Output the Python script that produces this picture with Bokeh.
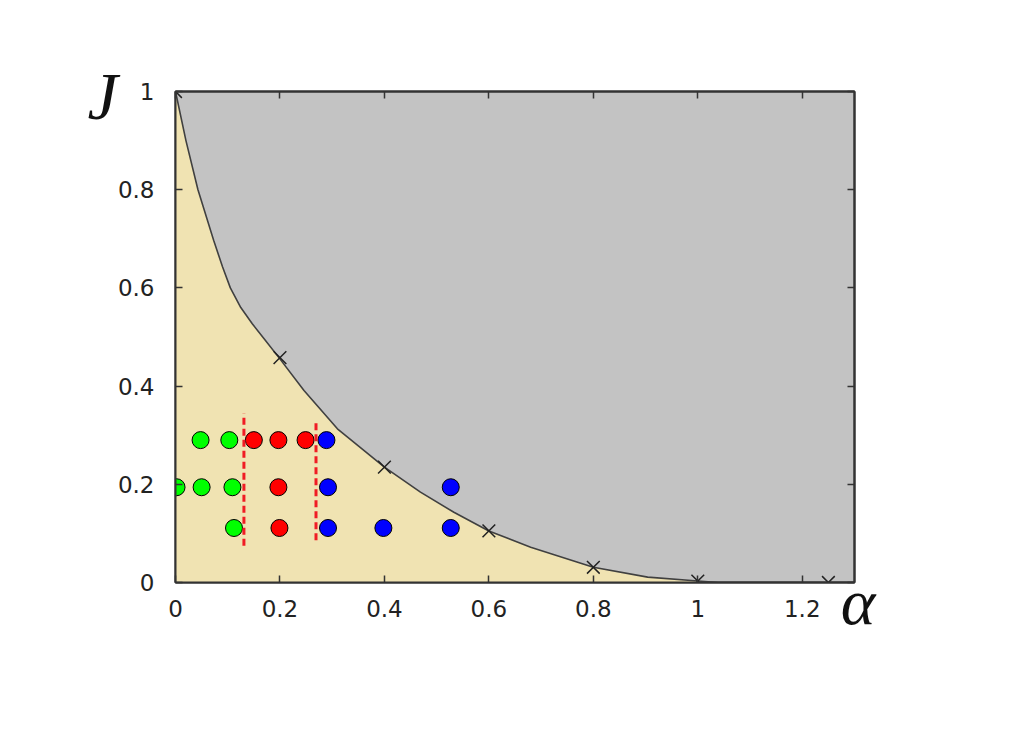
from bokeh.plotting import figure
from bokeh.models import LinearAxis, FixedTicker, Range1d, Title
from bokeh.embed import file_html
from bokeh.resources import INLINE

# boundary curve
curve_alpha = [0, 0.02, 0.043, 0.073, 0.09, 0.105, 0.125, 0.147, 0.17, 0.198, 0.246, 0.31, 0.4, 0.469, 0.533, 0.6, 0.68, 0.8, 0.904, 1.0, 1.04]
curve_J = [1, 0.9, 0.8, 0.697, 0.643, 0.6, 0.56, 0.527, 0.496, 0.458, 0.391, 0.313, 0.235, 0.184, 0.143, 0.105, 0.072, 0.031, 0.011, 0.003, 0.0]

# computed points (x marks)
mark_alpha = [0, 0.2, 0.4, 0.6, 0.8, 1.0, 1.25]
mark_J = [1.0, 0.458, 0.235, 0.105, 0.031, 0.003, 0.0]

# phase points
green_alpha = [0.048, 0.103, 0.002, 0.05, 0.109, 0.112]
green_J = [0.29, 0.29, 0.194, 0.194, 0.194, 0.111]
red_alpha = [0.15, 0.197, 0.249, 0.197, 0.199]
red_J = [0.29, 0.29, 0.29, 0.194, 0.111]
blue_alpha = [0.289, 0.292, 0.527, 0.292, 0.398, 0.527]
blue_J = [0.29, 0.194, 0.194, 0.111, 0.111, 0.111]

# dashed separators
sep_alpha = [0.131, 0.269]
sep_J_low = [0.075, 0.086]
sep_J_high = [0.344, 0.329]

x_ticks = [0, 0.2, 0.4, 0.6, 0.8, 1, 1.2]
x_labels = ["0", "0.2", "0.4", "0.6", "0.8", "1", "1.2"]
y_ticks = [0, 0.2, 0.4, 0.6, 0.8, 1]
y_labels = ["0", "0.2", "0.4", "0.6", "0.8", "1"]

W, H = 1000, 730
p = figure(width=W, height=H, output_backend="svg", toolbar_location=None,
           x_range=Range1d(0, 1.3), y_range=Range1d(0, 1),
           min_border_left=175, min_border_right=146,
           min_border_top=91, min_border_bottom=148)
p.background_fill_color = "#c3c3c3"
p.border_fill_color = "white"
p.outline_line_color = "#333333"
p.outline_line_width = 2
p.grid.visible = False

# fills
p.varea(x=curve_alpha, y1=[0] * len(curve_J), y2=curve_J, fill_color="#f0e3b2")
p.line(x=curve_alpha, y=curve_J, line_color="#404040", line_width=1.6, line_join="round")
p.line(x=[curve_alpha[-1], 1.3], y=[0, 0], line_color="#404040", line_width=1.6)

# dots
for xs, ys, c in [(green_alpha, green_J, "#00ff00"), (red_alpha, red_J, "#ff0000"),
                  (blue_alpha, blue_J, "#0000ff")]:
    p.scatter(x=xs, y=ys, size=17, fill_color=c, line_color="black", line_width=1)

# dashed lines
p.segment(x0=sep_alpha, y0=sep_J_low, x1=sep_alpha, y1=sep_J_high,
          line_color="#f01c24", line_width=3, line_dash="7 4")

# x marks
p.scatter(x=mark_alpha, y=mark_J, marker="x", size=18, line_color="#222222", line_width=1.5)

def style_axis(ax, ticks, labels, show_labels=True):
    ax.ticker = FixedTicker(ticks=ticks)
    ax.major_label_overrides = {t: l for t, l in zip(ticks, labels)}
    ax.axis_line_color = "#333333"
    ax.axis_line_width = 2
    ax.major_tick_line_color = "#333333"
    ax.major_tick_line_width = 1.5
    ax.major_tick_in = 7
    ax.major_tick_out = 0
    ax.minor_tick_line_color = None
    ax.major_label_text_font = "DejaVu Sans"
    if show_labels:
        ax.major_label_text_font_size = "23px"
        ax.major_label_text_color = "#222222"
        ax.major_label_standoff = 17
    else:
        ax.major_label_text_font_size = "0px"
        ax.major_label_text_color = None
        ax.major_label_standoff = 0

style_axis(p.xaxis[0], x_ticks, x_labels)
style_axis(p.yaxis[0], y_ticks, y_labels)
p.yaxis[0].major_label_standoff = 21

top = LinearAxis()
style_axis(top, x_ticks, x_labels, show_labels=False)
p.add_layout(top, "above")
right = LinearAxis()
style_axis(right, y_ticks, y_labels, show_labels=False)
p.add_layout(right, "right")

tJ = Title(text="J", align="left", offset=-88, vertical_align="bottom", standoff=-84,
           text_font="Liberation Serif", text_font_style="italic", text_font_size="68px",
           text_color="#111111")
p.add_layout(tJ, "above")
tA = Title(text="α", align="right", offset=-21, vertical_align="top", standoff=-110,
           text_font="Liberation Serif", text_font_style="italic", text_font_size="66px",
           text_color="#111111")
p.add_layout(tA, "below")

open("out.html", "w").write(file_html(p, INLINE))
